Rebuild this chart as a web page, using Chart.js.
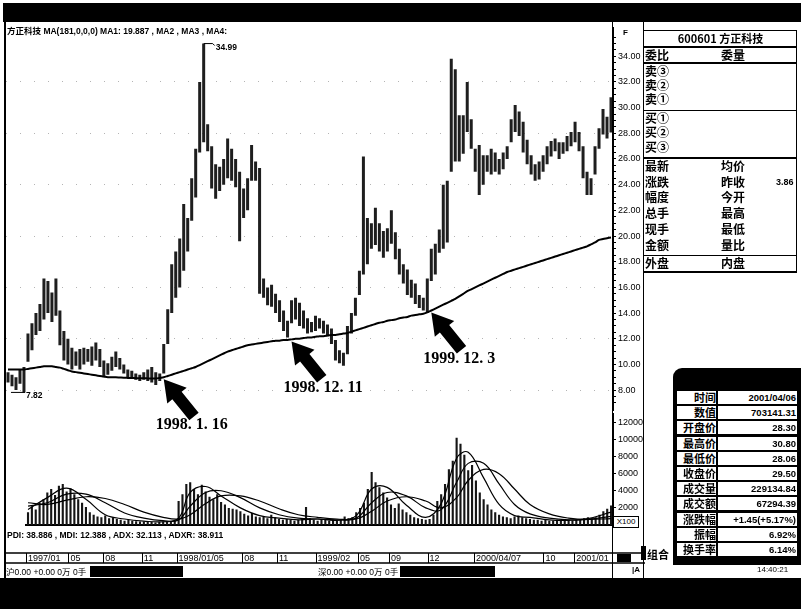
<!DOCTYPE html>
<html><head><meta charset="utf-8">
<script src="https://cdn.jsdelivr.net/npm/chart.js@4.4.1/dist/chart.umd.min.js"></script>
<style>
body{margin:0;background:#fff;}
#root{position:relative;width:801px;height:609px;overflow:hidden;background:#fff;font-family:'Liberation Sans',Arial,sans-serif;color:#000;}
.abs{position:absolute;}
.q{position:absolute;font:bold 12px 'Noto Sans CJK SC','Liberation Sans',sans-serif;line-height:12px;margin-top:-6px;white-space:nowrap;}
.ln{position:absolute;background:#000;}
.cell{position:absolute;background:#fff;height:13px;line-height:13px;white-space:nowrap;overflow:hidden;}
</style></head><body>
<div id="root">
  <canvas id="vol" class="abs" style="left:0;top:406px" width="645" height="159"></canvas>
  <canvas id="price" class="abs" style="left:0;top:20px" width="645" height="427"></canvas>

  <!-- top band -->
  <div class="ln" style="left:3px;top:3px;width:798px;height:19px"></div>
  <div class="abs" style="left:7px;top:24px;font:bold 8.5px 'Liberation Sans',sans-serif;white-space:nowrap"><span style="font-family:'Noto Sans CJK SC'">方正科技</span> MA(181,0,0,0) MA1: 19.887 , MA2 , MA3 , MA4:</div>

  <!-- frame lines -->
  <div class="ln" style="left:4px;top:22px;width:2px;height:556px"></div>
  <div class="ln" style="left:612px;top:22px;width:1px;height:556px"></div>
  <div class="ln" style="left:643px;top:22px;width:1px;height:556px"></div>
  <div class="abs" style="left:623px;top:28px;font:bold 8px 'Liberation Sans'">F</div>

  <!-- volume unit box -->
  <div class="abs" style="left:613px;top:516px;width:24px;height:10px;border:1px solid #000;background:#fff;font:8px 'Liberation Sans';line-height:10px;text-align:center">X100</div>

  <!-- DMI text -->
  <div class="abs" style="left:7px;top:530px;font:bold 8.5px 'Liberation Sans';white-space:nowrap">PDI: 38.886 , MDI: 12.388 , ADX: 32.113 , ADXR: 38.911</div>
  <div class="ln" style="left:617px;top:554px;width:14px;height:8px"></div>

  <!-- right quote panel -->
  <div class="ln" style="left:644px;top:30px;width:153px;height:1px"></div>
  <div class="ln" style="left:644px;top:46px;width:153px;height:2px"></div>
  <div class="ln" style="left:644px;top:62px;width:153px;height:2px"></div>
  <div class="ln" style="left:644px;top:110px;width:153px;height:1px"></div>
  <div class="ln" style="left:644px;top:157px;width:153px;height:2px"></div>
  <div class="ln" style="left:644px;top:255px;width:153px;height:1px"></div>
  <div class="ln" style="left:644px;top:271px;width:153px;height:2px"></div>
  <div class="ln" style="left:796px;top:30px;width:1px;height:243px"></div>
  <div class="q" style="left:644px;width:153px;text-align:center;top:38px;font-size:11px">600601 方正科技</div>
  <div class="q" style="left:645px;top:55px">委比</div><div class="q" style="left:721px;top:55px">委量</div>
  <div class="q" style="left:645px;top:71px">卖③</div>
  <div class="q" style="left:645px;top:85px">卖②</div>
  <div class="q" style="left:645px;top:99px">卖①</div>
  <div class="q" style="left:645px;top:118px">买①</div>
  <div class="q" style="left:645px;top:132px">买②</div>
  <div class="q" style="left:645px;top:147px">买③</div>
  <div class="q" style="left:645px;top:166px">最新</div><div class="q" style="left:721px;top:166px">均价</div>
  <div class="q" style="left:645px;top:182px">涨跌</div><div class="q" style="left:721px;top:182px">昨收</div>
  <div class="q" style="left:776px;top:182px;font:bold 9px 'Liberation Sans';line-height:12px">3.86</div>
  <div class="q" style="left:645px;top:197px">幅度</div><div class="q" style="left:721px;top:197px">今开</div>
  <div class="q" style="left:645px;top:213px">总手</div><div class="q" style="left:721px;top:213px">最高</div>
  <div class="q" style="left:645px;top:229px">现手</div><div class="q" style="left:721px;top:229px">最低</div>
  <div class="q" style="left:645px;top:245px">金额</div><div class="q" style="left:721px;top:245px">量比</div>
  <div class="q" style="left:645px;top:263px">外盘</div><div class="q" style="left:721px;top:263px">内盘</div>

  <!-- info box -->
  <div class="ln" style="left:673px;top:368px;width:128px;height:197px;border-top-left-radius:9px"></div>
  <div id="info"></div>
  <div class="ln" style="left:641px;top:546px;width:5px;height:14px"></div>
  <div class="q" style="left:647px;top:554px;font-size:11px">组合</div>

  <!-- status row -->
  <div class="abs" style="left:6px;top:565px;font:8.5px 'Liberation Sans';white-space:nowrap"><span style="font-family:'Noto Sans CJK SC'">沪</span>0.00 +0.00 0<span style="font-family:'Noto Sans CJK SC'">万</span> 0<span style="font-family:'Noto Sans CJK SC'">手</span></div>
  <div class="ln" style="left:90px;top:566px;width:93px;height:11px"></div>
  <div class="abs" style="left:318px;top:565px;font:8.5px 'Liberation Sans';white-space:nowrap"><span style="font-family:'Noto Sans CJK SC'">深</span>0.00 +0.00 0<span style="font-family:'Noto Sans CJK SC'">万</span> 0<span style="font-family:'Noto Sans CJK SC'">手</span></div>
  <div class="ln" style="left:400px;top:566px;width:95px;height:11px"></div>
  <div class="abs" style="left:632px;top:565px;font:bold 8px 'Liberation Sans'">|A</div>
  <div class="abs" style="left:757px;top:565px;font:8px 'Liberation Sans'">14:40:21</div>

  <!-- bottom band -->
  <div class="ln" style="left:0;top:578px;width:801px;height:31px"></div>
</div>
<script>
// ---- price candles (daily bars condensed) ----
const candleLow = [
 8.6,8.3,8.0,8.5,7.82,10.2,11.1,12.3,12.6,13.5,
 14.0,13.3,13.8,11.5,10.3,10.0,9.6,9.9,9.6,10.0,
 10.2,9.9,10.3,9.8,9.0,9.2,9.5,9.8,9.6,9.3,
 9.0,9.0,8.8,8.7,8.8,8.7,8.6,8.4,8.7,9.3,
 11.6,14.0,15.2,16.0,17.3,18.8,21.2,23.0,26.5,27.3,
 26.6,23.7,22.9,23.5,24.0,24.5,24.3,23.8,19.6,21.4,
 22.0,24.3,24.3,15.5,15.2,14.6,14.5,14.0,13.3,12.6,
 12.1,13.2,13.5,13.0,12.8,12.4,12.5,12.6,12.8,12.4,
 12.2,11.6,10.3,10.1,9.9,10.8,12.4,13.8,15.4,17.0,
 17.8,19.0,19.3,18.8,18.3,18.8,19.4,18.2,17.0,16.3,
 15.4,15.2,14.7,14.4,14.2,14.0,16.5,17.0,18.7,19.0,
 19.5,25.0,25.8,25.8,26.4,28.1,26.8,25.0,23.2,24.0,
 25.0,24.8,25.0,24.8,25.2,26.0,27.3,28.1,27.8,26.5,
 25.6,24.8,24.3,24.4,25.0,25.6,26.2,26.6,26.0,26.4,
 26.6,27.0,27.3,26.6,24.5,23.2,23.2,24.8,26.8,27.9,
 27.6,28.06];
const candleHigh = [
 9.4,9.2,9.0,9.6,9.8,12.4,13.2,14.0,14.7,16.7,
 16.5,15.6,16.7,14.2,12.6,12.0,11.3,11.0,11.2,11.3,
 11.2,11.4,11.7,11.2,10.3,10.1,10.6,11.0,10.5,10.0,
 9.6,9.5,9.3,9.2,9.4,9.6,9.8,9.4,9.3,11.6,
 14.3,17.8,18.8,19.8,22.5,21.4,24.5,26.8,32.0,34.99,
 28.7,27.0,25.6,25.4,26.0,27.6,26.8,26.0,25.0,23.7,
 24.5,27.1,25.8,25.3,16.7,16.0,16.2,15.5,15.0,14.2,
 13.4,15.0,15.2,14.8,14.2,13.6,13.3,13.8,13.6,13.4,
 13.1,12.8,11.9,11.1,10.9,13.0,14.0,15.2,17.3,26.2,
 21.4,21.0,22.2,21.0,20.4,20.6,22.0,20.3,19.0,17.8,
 17.4,16.6,16.3,15.4,15.2,16.7,19.0,19.4,20.5,24.0,
 24.3,33.8,33.0,29.4,29.4,32.0,29.1,26.8,27.1,26.3,
 26.3,26.8,26.5,26.0,26.5,27.0,29.1,30.2,29.7,28.9,
 27.5,26.3,25.6,25.8,26.3,27.0,27.4,27.6,27.3,27.3,
 27.8,28.1,28.9,28.1,27.0,25.0,24.5,27.0,28.4,29.9,
 29.3,30.8];
// MA(181) line
const maValues = [
 9.6,9.6,9.6,9.6,9.6,9.65,9.7,9.75,9.8,9.85,
 9.85,9.85,9.8,9.75,9.65,9.55,9.45,9.4,9.35,9.3,
 9.25,9.2,9.15,9.1,9.05,9.0,9.0,9.0,8.98,8.96,
 8.95,8.94,8.93,8.92,8.92,8.91,8.9,8.9,8.95,9.0,
 9.1,9.2,9.3,9.4,9.5,9.6,9.7,9.8,9.95,10.1,
 10.25,10.4,10.55,10.7,10.85,11.0,11.1,11.2,11.3,11.4,
 11.5,11.55,11.6,11.65,11.7,11.75,11.8,11.85,11.85,11.9,
 11.9,11.95,12.0,12.0,12.05,12.1,12.1,12.15,12.2,12.2,
 12.25,12.3,12.3,12.35,12.4,12.45,12.55,12.65,12.75,12.85,
 12.95,13.05,13.15,13.25,13.3,13.4,13.45,13.5,13.6,13.65,
 13.7,13.8,13.85,13.9,13.95,14.05,14.2,14.35,14.5,14.65,
 14.8,14.95,15.1,15.3,15.5,15.7,15.85,16.0,16.15,16.3,
 16.45,16.6,16.75,16.9,17.05,17.2,17.3,17.4,17.5,17.6,
 17.7,17.8,17.9,18.0,18.1,18.2,18.3,18.4,18.5,18.6,
 18.7,18.8,18.9,19.0,19.1,19.2,19.35,19.5,19.7,19.77,
 19.83,19.89];
// volume (x100 shares)
const volume = [
 1500,2200,1800,2600,3000,3800,4200,3500,4600,4800,
 3900,4300,3600,3000,2600,2100,1500,1200,1000,900,
 1100,800,900,700,600,500,600,500,450,400,
 400,350,350,300,350,400,350,400,500,2800,
 3600,4800,5000,4200,3600,4700,3900,3300,3000,3600,
 2700,2400,2000,1900,1800,1600,1300,1100,1400,1000,
 900,1000,800,1200,900,700,600,700,600,500,
 600,700,2100,800,600,500,700,600,500,600,
 500,600,1000,800,900,1500,2000,2600,4200,6200,
 5000,4400,3800,3200,2400,2000,2500,1800,1500,1200,
 900,800,700,600,700,1200,2800,3600,4800,6500,
 7500,10200,9500,8200,6400,7000,5200,3800,3000,2400,
 1800,1500,1200,1000,900,800,1000,1100,900,800,
 700,600,600,500,600,500,500,600,500,500,
 600,500,600,700,800,900,800,900,1200,1600,
 1900,2291];
// volume average curves, read at these bar positions
const volMaIdx = [0,5,10,15,20,25,30,35,39,42,46,50,55,60,65,70,75,80,85,89,93,98,103,107,111,114,118,122,126,130,135,140,145,151];
const volMaA = [1800,3200,4300,3000,1200,700,450,380,800,3800,4500,3400,2000,1100,800,600,700,550,1100,4200,4400,2300,900,2500,7800,8500,5500,2400,1100,900,600,550,750,1500];
const volMaB = [2200,2600,3600,3600,2600,1400,800,500,600,2200,3800,4000,3200,2000,1200,800,700,600,800,2600,3800,3400,2000,1800,5000,7200,7200,4800,2400,1300,800,600,650,1000];
const volMaC = [2600,2400,2900,3300,3100,2400,1500,900,700,1200,2500,3400,3400,2800,1900,1200,900,700,700,1600,2800,3300,2800,2000,3200,5200,6500,6000,4200,2400,1300,800,650,750];
// axis ticks
const priceTickValues = [7,7.5,8,8.5,9,9.5,10,10.5,11,11.5,12,12.5,13,13.5,14,14.5,15,15.5,16,16.5,17,17.5,18,18.5,19,19.5,20,20.5,21,21.5,22,22.5,23,23.5,24,24.5,25,25.5,26,26.5,27,27.5,28,28.5,29,29.5,30,30.5,31,31.5,32,32.5,33,33.5,34,34.5,35,35.5];
const volTickValues = [2000,4000,6000,8000,10000,12000];
const dateIdx = [0,11,20,30,39,56,65,75,86,94,104,116,134,142];
const dateLabels = ['1997/01','05','08','11','1998/01/05','08','11','1999/02','05','09','12','2000/04/07','10','2001/01'];
// annotations
const arrowIdx = [39,71,106];
const arrowText = ['1998. 1. 16','1998. 12. 11','1999. 12. 3'];
// info table
const infoLabels = ['时间','数值','开盘价','最高价','最低价','收盘价','成交量','成交额','涨跌幅','振幅','换手率'];
const infoValues = ['2001/04/06','703141.31','28.30','30.80','28.06','29.50','229134.84','67294.39','+1.45(+5.17%)','6.92%','6.14%'];

Chart.defaults.font.family = "'Liberation Sans', Arial, sans-serif";
Chart.defaults.color = '#000';

const barIndex = candleLow.map((_, i) => i);
const spread = (vals) => { const a = new Array(barIndex.length).fill(null); volMaIdx.forEach((ix, k) => { a[ix] = vals[k]; }); return a; };

(function(){
  const host = document.getElementById('info');
  let h = '';
  infoLabels.forEach((lab, k) => {
    const top = 391 + k * 15.2;
    h += `<div class="cell" style="left:677px;top:${top}px;width:39px;text-align:right;font:bold 11px 'Noto Sans CJK SC';line-height:13px">${lab}</div>`;
    h += `<div class="cell" style="left:718px;top:${top}px;width:78px;text-align:right;padding-right:1px;font:bold 9.5px 'Liberation Sans';line-height:13px">${infoValues[k]}</div>`;
  });
  host.innerHTML = h;
})();

const annotPlugin = {
  id: 'annot',
  afterDraw(chart) {
    const {ctx, scales: {x, y}} = chart;
    ctx.save();
    ctx.fillStyle = '#000';
    const L = Math.hypot(30, 37), dx = 30 / L, dy = 37 / L, nx = -dy, ny = dx;
    arrowIdx.forEach((idx, k) => {
      const tx = x.getPixelForValue(idx), ty = y.getPixelForValue(maValues[idx]) + 2;
      const hb = 21, hw = 12.5, sw = 6, len = 48;
      const bx = tx + dx * hb, by = ty + dy * hb, ex = tx + dx * len, ey = ty + dy * len;
      ctx.beginPath();
      ctx.moveTo(tx, ty);
      ctx.lineTo(bx + nx * hw, by + ny * hw);
      ctx.lineTo(bx + nx * sw, by + ny * sw);
      ctx.lineTo(ex + nx * sw, ey + ny * sw);
      ctx.lineTo(ex - nx * sw, ey - ny * sw);
      ctx.lineTo(bx - nx * sw, by - ny * sw);
      ctx.lineTo(bx - nx * hw, by - ny * hw);
      ctx.closePath();
      ctx.fill();
      ctx.font = "bold 16px 'Liberation Serif', serif";
      ctx.textAlign = 'left'; ctx.textBaseline = 'middle';
      ctx.fillText(arrowText[k], tx - 8, ty + 46);
    });
    let hi = 0, lo = 0;
    candleHigh.forEach((v, i) => { if (v > candleHigh[hi]) hi = i; });
    candleLow.forEach((v, i) => { if (v < candleLow[lo]) lo = i; });
    ctx.strokeStyle = '#000'; ctx.lineWidth = 1;
    let px = x.getPixelForValue(hi), py = y.getPixelForValue(candleHigh[hi]);
    ctx.beginPath(); ctx.moveTo(px, py); ctx.lineTo(px + 9, py); ctx.lineTo(px + 11, py + 2); ctx.stroke();
    ctx.font = "bold 8.5px 'Liberation Sans'"; ctx.textBaseline = 'middle';
    ctx.fillText(candleHigh[hi].toFixed(2), px + 12, py + 4);
    px = x.getPixelForValue(lo); py = y.getPixelForValue(candleLow[lo]);
    ctx.beginPath(); ctx.moveTo(px - 13, py); ctx.lineTo(px + 1, py); ctx.stroke();
    ctx.fillText(candleLow[lo].toFixed(2), px + 2, py + 3);
    ctx.restore();
  }
};

new Chart(document.getElementById('price'), {
  data: {
    labels: barIndex,
    datasets: [
      { type: 'line', data: maValues, borderColor: '#000', borderWidth: 2, pointRadius: 0, tension: 0.3, order: 0 },
      { type: 'bar', data: candleLow.map((l, i) => [l, candleHigh[i]]), backgroundColor: '#1e1e1e', barPercentage: 0.75, categoryPercentage: 1, order: 1 }
    ]
  },
  options: {
    responsive: false, animation: false,
    layout: { padding: { left: 6, top: 6, right: 0, bottom: 37 } },
    plugins: { legend: { display: false }, tooltip: { enabled: false } },
    scales: {
      x: { type: 'category', display: false, offset: true },
      y: {
        position: 'right', min: 6.45, max: 36.25,
        afterFit: s => { s.width = 32; },
        afterBuildTicks: s => { s.ticks = priceTickValues.map(v => ({ value: v })); },
        ticks: { autoSkip: false, padding: 2, font: { size: 9 }, color: '#000',
                 callback: v => (Math.abs(v % 2) < 1e-6 ? Number(v).toFixed(2) : '') },
        grid: { drawOnChartArea: true, tickLength: 3, tickColor: '#000',
                color: c => (c.tick && Math.abs(c.tick.value % 4) < 1e-6 ? '#b4b4b4' : 'rgba(0,0,0,0)') },
        border: { display: true, color: '#000', width: 1, dash: [1, 13] }
      }
    }
  },
  plugins: [annotPlugin]
});

const dateRowPlugin = {
  id: 'dateRow',
  afterDraw(chart) {
    const {ctx, chartArea, scales: {x}} = chart;
    const top = chartArea.bottom + 28, bot = chartArea.bottom + 38;
    ctx.save();
    ctx.strokeStyle = '#000'; ctx.lineWidth = 1.5;
    ctx.beginPath();
    ctx.moveTo(4, top); ctx.lineTo(chart.width, top);
    ctx.moveTo(4, bot); ctx.lineTo(chart.width, bot);
    ctx.stroke();
    ctx.lineWidth = 1;
    x.ticks.forEach((t, i) => {
      const px = Math.round(x.getPixelForTick(i)) - 1.5;
      ctx.beginPath(); ctx.moveTo(px, top); ctx.lineTo(px, bot); ctx.stroke();
    });
    ctx.restore();
  }
};

const maLine = (vals) => ({ type: 'line', data: spread(vals), spanGaps: true, borderColor: '#000', borderWidth: 1.2, pointRadius: 0, tension: 0.4, order: 0 });

new Chart(document.getElementById('vol'), {
  data: {
    labels: barIndex,
    datasets: [
      maLine(volMaA), maLine(volMaB), maLine(volMaC),
      { type: 'bar', data: volume, backgroundColor: '#151515', barPercentage: 0.55, categoryPercentage: 1, order: 1 }
    ]
  },
  options: {
    responsive: false, animation: false,
    layout: { padding: { left: 6, top: 6, right: 0, bottom: 0 } },
    plugins: { legend: { display: false }, tooltip: { enabled: false } },
    scales: {
      x: {
        type: 'category', offset: true, position: 'bottom',
        afterFit: s => { s.height = 40; },
        afterBuildTicks: s => { s.ticks = dateIdx.map(v => ({ value: v })); },
        ticks: { autoSkip: false, maxRotation: 0, minRotation: 0, align: 'start', padding: 28, font: { size: 9 }, color: '#000',
                 callback: (v, i) => dateLabels[i] },
        grid: { display: false, drawTicks: false },
        border: { display: true, color: '#000', width: 2 }
      },
      y: {
        position: 'right', min: 0, max: 13038,
        afterFit: s => { s.width = 32; },
        afterBuildTicks: s => { s.ticks = volTickValues.map(v => ({ value: v })); },
        ticks: { autoSkip: false, padding: 2, font: { size: 9 }, color: '#000', callback: v => String(v) },
        grid: { drawOnChartArea: false, tickLength: 3, tickColor: '#000' },
        border: { display: true, color: '#000', width: 1 }
      }
    }
  },
  plugins: [dateRowPlugin]
});
</script>
</body></html>
